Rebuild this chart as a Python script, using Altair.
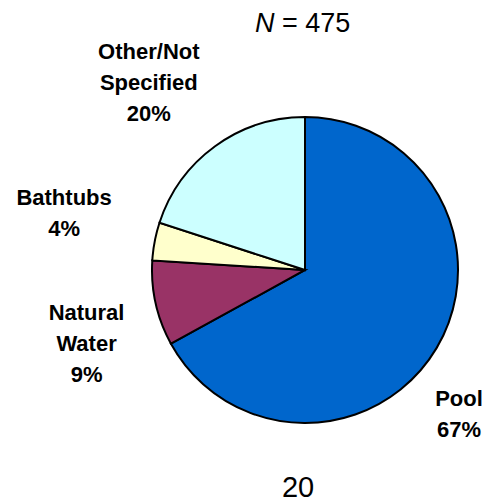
import altair as alt
import pandas as pd

# ---- data ----
categories = ["Pool", "Natural Water", "Bathtubs", "Other/Not Specified"]
label_names = ["Pool", "Natural\nWater", "Bathtubs", "Other/Not\nSpecified"]
percents = [67, 9, 4, 20]
colors = ["#0066CC", "#993366", "#FFFFCC", "#CCFFFF"]
n_total = "475"
page_number = "20"

df = pd.DataFrame({
    "category": categories,
    "name": label_names,
    "pct": percents,
    "idx": list(range(len(categories))),
})

# ---- layout / style ----
CX, CY = 297, 262          # pie centre inside plot area
R = 153
FONT = "Liberation Sans"
label_radius = 230
label_nudge = {            # (dx, dy) fine-tuning of label blocks (first line anchor)
    "Pool": (-44, 12),
    "Natural Water": (6, -7),
    "Bathtubs": (-15, -29),
    "Other/Not Specified": (-21, -32),
}

base = alt.Chart(df).transform_window(
    cum="sum(pct)", sort=[alt.SortField("idx")]
).transform_calculate(
    start="datum.cum - datum.pct",
    mid="datum.cum - datum.pct / 2",
    label="datum.name + '\\n' + datum.pct + '%'",
)

theta_scale = alt.Scale(domain=[0, 100], range=[0, 6.283185307179586])

pie = base.mark_arc(outerRadius=R, stroke="black", strokeWidth=2).encode(
    theta=alt.Theta("start:Q", scale=theta_scale),
    theta2="cum:Q",
    color=alt.Color("category:N", scale=alt.Scale(domain=categories, range=colors), legend=None),
    x=alt.value(CX),
    y=alt.value(CY),
)

label_layers = []
for cat in categories:
    dx, dy = label_nudge[cat]
    label_layers.append(
        base.transform_filter(alt.datum.category == cat).mark_text(
            radius=label_radius, dx=dx, dy=dy, font=FONT, fontSize=22,
            fontWeight="bold", align="center", baseline="middle",
            lineBreak="\n", lineHeight=31, color="black",
        ).encode(
            theta=alt.Theta("mid:Q", scale=theta_scale),
            text="label:N",
            x=alt.value(CX),
            y=alt.value(CY),
        )
    )

n_italic = alt.Chart(pd.DataFrame({"t": ["N"]})).mark_text(
    font=FONT, fontSize=27, fontStyle="italic", align="left", baseline="alphabetic", color="black"
).encode(text="t:N", x=alt.value(247), y=alt.value(24))

n_rest = alt.Chart(pd.DataFrame({"t": ["= " + n_total]})).mark_text(
    font=FONT, fontSize=27, align="left", baseline="alphabetic", color="black"
).encode(text="t:N", x=alt.value(274), y=alt.value(24))

page = alt.Chart(pd.DataFrame({"t": [page_number]})).mark_text(
    font=FONT, fontSize=29, align="center", baseline="alphabetic", color="black"
).encode(text="t:N", x=alt.value(290), y=alt.value(489))

chart = alt.layer(pie, *label_layers, n_italic, n_rest, page).properties(
    width=476, height=496, padding=0,
    autosize=alt.AutoSizeParams(type="none"),
).configure_view(stroke=None)

chart.save("out.html", embed_options={"renderer": "svg", "actions": False})
